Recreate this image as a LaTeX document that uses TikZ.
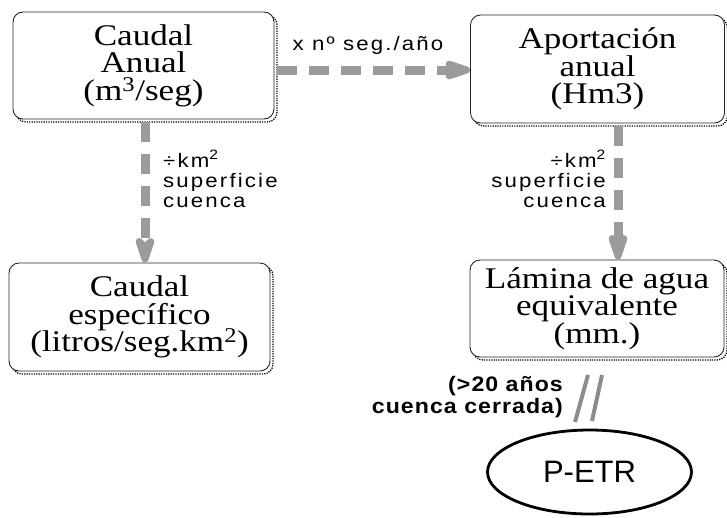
\documentclass[tikz,border=0pt]{standalone}
\usepackage{fontspec}
\setmainfont{Liberation Serif}[FakeStretch=1.17]
\newfontfamily\lblfont{Liberation Sans}[FakeStretch=1.14, LetterSpace=11]
\newfontfamily\boldlbl{Liberation Sans Bold}[FakeStretch=1.1, LetterSpace=5]
\newfontfamily\ellfont{Liberation Sans}
\usetikzlibrary{arrows.meta,shapes.geometric,shadows}
\definecolor{arrowgray}{RGB}{155,155,155}
\definecolor{slashgray}{RGB}{140,140,140}
\newcommand\myboxfont{\fontsize{30}{27.5}\selectfont\setlength{\lineskiplimit}{-40pt}}
\tikzset{
  box/.style={draw=black!85, line width=0.9pt, rounded corners=10pt, fill=white,
    align=center, inner sep=0pt, font=\myboxfont,
    general shadow={shadow xshift=3pt, shadow yshift=-3pt, draw=black,
      line width=1.3pt, dash pattern=on 1.2pt off 1.2pt}},
  flow/.style={draw=arrowgray, line width=9pt, dash pattern=on 20pt off 12pt,
    -{Stealth[length=40pt, width=26pt, inset=12pt, round]}},
  lbl/.style={font=\lblfont\fontsize{19.5}{20}\selectfont, inner sep=0pt},
  slash/.style={draw=slashgray, line width=4pt},
}
\begin{document}
\begin{tikzpicture}[x=1pt, y=-1pt]
\useasboundingbox (0,0) rectangle (727,517);
\node[box, minimum width=261pt, minimum height=107pt] (b1) at (143.5,65.5)
  {Caudal\\Anual\\(m\textsuperscript{3}/seg)};
\node[box, minimum width=254pt, minimum height=108pt] (b2) at (597.5,69)
  {Aportación\\anual\\(Hm3)};
\node[box, minimum width=261pt, minimum height=108pt] (b3) at (139.5,317)
  {Caudal\\específico\\(litros/seg.km\textsuperscript{2})};
\node[box, minimum width=254pt, minimum height=97pt] (b4) at (597,308.5)
  {Lámina de agua\\equivalente\\(mm.)};
\node[ellipse, draw=black, line width=2.8pt, minimum width=204pt, minimum height=84pt,
  inner sep=0pt, font=\ellfont\fontsize{31}{31}\selectfont] (e) at (589.5,472) {P-ETR};

\draw[flow] ([xshift=3pt, yshift=-4.5pt]b1.east) -- (b2.west |- 0,70);
\draw[flow] ([xshift=1.5pt, yshift=-3pt]b1.south) -- ([xshift=1.5pt]b1.south |- b3.north);
\draw[flow] ([xshift=20.5pt, yshift=-3pt]b2.south) -- ([xshift=20.5pt]b2.south |- b4.north);

\node[lbl, anchor=center] (l1) at (368,45) {x nº seg./año};
\node[lbl, anchor=west, align=left] (l2) at (163,179) {÷km\textsuperscript{2}\\superficie\\cuenca};
\node[lbl, anchor=east, align=right] (l3) at (606,179) {÷km\textsuperscript{2}\\superficie\\cuenca};
\node[font=\boldlbl\fontsize{21}{22}\selectfont, anchor=east, align=right, inner sep=0pt]
  (l4) at (563,397) {(>20 años\\cuenca cerrada)};

\coordinate (s1a) at (588,375); \coordinate (s1b) at (575,422);
\coordinate (s2a) at (602,375); \coordinate (s2b) at (592,421);
\draw[slash] (s1a) -- (s1b);
\draw[slash] (s2a) -- (s2b);
\end{tikzpicture}
\end{document}
